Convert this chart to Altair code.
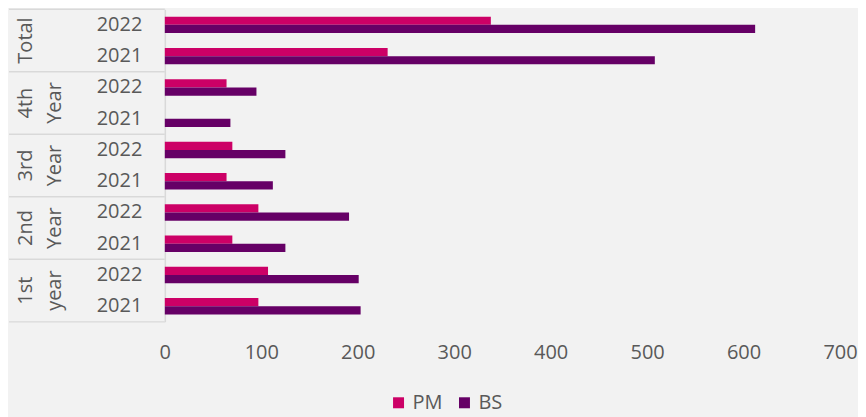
import altair as alt
import pandas as pd

groups = ["Total", "4th Year", "3rd Year", "2nd Year", "1st year"]
years = ["2022", "2021"]
series = ["PM", "BS"]
pm_values = [338, 231, 64, 0, 70, 64, 97, 70, 107, 97]
bs_values = [612, 508, 95, 68, 125, 112, 191, 125, 201, 203]
x_ticks = [0, 100, 200, 300, 400, 500, 600, 700]
colors = ["#CC0066", "#660066"]

FONT = "Open Sans"
TXT = "#595959"
LINE = "#d9d9d9"

rows = [f"{g}|{y}" for g in groups for y in years]
records = []
for i, r in enumerate(rows):
    records.append({"row": r, "series": "PM", "value": pm_values[i]})
    records.append({"row": r, "series": "BS", "value": bs_values[i]})
df = pd.DataFrame(records)

grp_df = pd.DataFrame({
    "group": groups,
    "first": [f"{g}|{years[0]}" for g in groups],
    "last": [f"{g}|{years[-1]}" for g in groups],
})

yscale = alt.Scale(domain=rows, paddingInner=0, paddingOuter=0)

bars = alt.Chart(df).mark_bar().encode(
    y=alt.Y("row:N", scale=yscale, sort=rows, title=None,
            axis=alt.Axis(title=None, labelExpr="split(datum.value, '|')[1]",
                          ticks=False, domain=True, domainColor=LINE, domainWidth=1.5,
                          labelFontSize=20, labelColor=TXT, labelFont=FONT,
                          labelPadding=23)),
    yOffset=alt.YOffset("series:N", sort=series,
                        scale=alt.Scale(domain=series, paddingInner=0, paddingOuter=0.9)),
    x=alt.X("value:Q", scale=alt.Scale(domain=[0, 700], nice=False),
            axis=alt.Axis(values=x_ticks, title=None, grid=False, domain=False, ticks=False,
                          labelFlush=False,
                          labelFontSize=20, labelColor=TXT, labelFont=FONT,
                          labelPadding=21)),
    color=alt.Color("series:N", sort=series,
                    scale=alt.Scale(domain=series, range=colors),
                    legend=alt.Legend(title=None, orient="none", direction="horizontal",
                                      legendX=224, legendY=384, padding=0,
                                      symbolType="square", symbolSize=121,
                                      symbolStrokeWidth=0, labelFontSize=20,
                                      labelFont=FONT, labelColor=TXT,
                                      labelOffset=4, columnPadding=11)),
)

group_labels = alt.Chart(grp_df).mark_text(
    angle=270, align="center", baseline="middle", fontSize=20, font=FONT,
    color=TXT, lineBreak=" ", lineHeight=29
).encode(
    y=alt.Y("first:N", scale=yscale, bandPosition=1, title=None),
    x=alt.value(-139),
    text="group:N",
)

top_rules = alt.Chart(grp_df).mark_rule(color=LINE, strokeWidth=1.5).encode(
    y=alt.Y("first:N", scale=yscale, bandPosition=0, title=None),
    x=alt.value(-156),
    x2=alt.value(0),
)

bottom_rule = alt.Chart(grp_df.tail(1)).mark_rule(color=LINE, strokeWidth=1.5).encode(
    y=alt.Y("last:N", scale=yscale, bandPosition=1, title=None),
    x=alt.value(-156),
    x2=alt.value(0),
)

chart = alt.layer(bars, top_rules, bottom_rule, group_labels).properties(
    width=676, height=313,
    padding={"left": 0, "top": 0, "right": 0, "bottom": 10},
    background="#f2f2f2",
).configure_view(stroke=None)

chart.save("out.html", embed_options={"renderer": "svg", "actions": False})
